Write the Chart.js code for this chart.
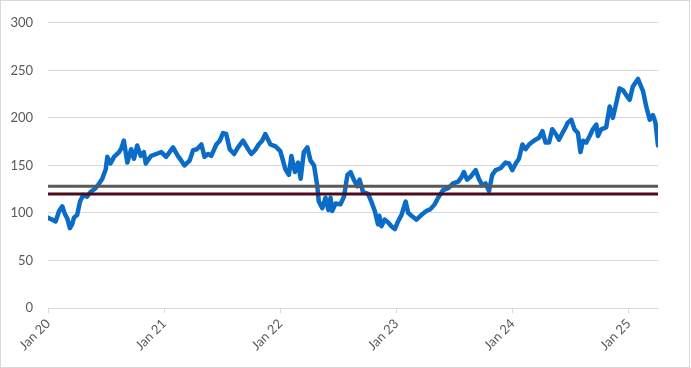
<!DOCTYPE html>
<html>
<head>
<meta charset="utf-8">
<script src="https://cdn.jsdelivr.net/npm/chart.js@4.4.1/dist/chart.umd.min.js"></script>
<style>
  html, body { margin: 0; padding: 0; background: #fff; }
  #wrap { position: relative; width: 691px; height: 368px; }
  #wrap::after {
    content: ""; position: absolute; left: 0; top: 0; width: 690px; height: 368px;
    box-sizing: border-box; border: 1px solid #d9d9d9; pointer-events: none;
  }
  canvas { position: absolute; left: 0; top: 0; }
</style>
</head>
<body>
<div id="wrap"><canvas id="chart" width="691" height="368"></canvas></div>
<script>
// ===============================
// Data
// ===============================
const dates = [
  "2020-01-01","2020-01-14","2020-01-25","2020-02-05","2020-02-15","2020-02-23","2020-03-02","2020-03-10",
  "2020-03-17","2020-03-23","2020-04-02","2020-04-11","2020-04-21","2020-05-03","2020-05-14","2020-05-30",
  "2020-06-10","2020-06-20","2020-07-01","2020-07-06","2020-07-16","2020-07-27","2020-08-12","2020-08-19",
  "2020-08-27","2020-09-07","2020-09-19","2020-09-28","2020-10-08","2020-10-19","2020-10-29","2020-11-04",
  "2020-11-14","2020-11-21","2020-12-07","2020-12-23","2021-01-07","2021-01-29","2021-02-13","2021-02-24",
  "2021-03-06","2021-03-22","2021-04-02","2021-04-14","2021-04-28","2021-05-08","2021-05-19","2021-05-29",
  "2021-06-14","2021-06-25","2021-07-05","2021-07-15","2021-07-26","2021-08-09","2021-08-21","2021-09-06",
  "2021-09-22","2021-10-02","2021-10-14","2021-10-25","2021-11-05","2021-11-15","2021-12-01","2021-12-17",
  "2022-01-01","2022-01-17","2022-01-28","2022-02-05","2022-02-16","2022-02-26","2022-03-06","2022-03-16",
  "2022-03-27","2022-04-06","2022-04-17","2022-04-27","2022-05-02","2022-05-13","2022-05-23","2022-06-01",
  "2022-06-08","2022-06-13","2022-06-24","2022-07-09","2022-07-20","2022-07-31","2022-08-10","2022-08-20",
  "2022-08-31","2022-09-07","2022-09-18","2022-10-04","2022-10-14","2022-10-25","2022-11-04","2022-11-08",
  "2022-11-15","2022-11-25","2022-12-06","2022-12-16","2022-12-27","2023-01-06","2023-01-17","2023-01-30",
  "2023-02-07","2023-02-17","2023-03-05","2023-03-21","2023-04-05","2023-04-18","2023-05-01","2023-05-12",
  "2023-05-28","2023-06-13","2023-06-28","2023-07-14","2023-07-25","2023-08-01","2023-08-11","2023-08-22",
  "2023-09-07","2023-09-17","2023-09-28","2023-10-08","2023-10-19","2023-10-29","2023-11-09","2023-11-24",
  "2023-12-10","2023-12-21","2023-12-31","2024-01-11","2024-01-21","2024-02-01","2024-02-11","2024-02-22",
  "2024-03-08","2024-03-24","2024-04-04","2024-04-14","2024-04-25","2024-05-05","2024-05-16","2024-05-26",
  "2024-06-06","2024-06-16","2024-06-23","2024-07-04","2024-07-14","2024-07-25","2024-08-02","2024-08-10",
  "2024-08-20","2024-08-31","2024-09-10","2024-09-21","2024-09-26","2024-10-06","2024-10-22","2024-11-02",
  "2024-11-12","2024-11-23","2024-12-03","2024-12-14","2024-12-24","2025-01-04","2025-01-14","2025-01-30",
  "2025-02-15","2025-02-25","2025-03-08","2025-03-18","2025-03-26","2025-04-03"
];

const price = [
  95, 93, 91, 102, 107, 99, 94, 84,
  88, 95, 98, 112, 119, 117, 122, 126,
  131, 136, 146, 159, 152, 159, 164, 168,
  176, 153, 167, 157, 171, 160, 164, 152,
  157, 160, 162, 164, 159, 169, 160, 155,
  150, 155, 166, 167, 172, 159, 162, 160,
  172, 176, 184, 183, 167, 162, 169, 176,
  167, 162, 166, 172, 176, 183, 172, 170,
  165, 146, 140, 160, 143, 153, 136, 164,
  169, 155, 150, 129, 112, 105, 116, 103,
  116, 102, 110, 109, 117, 140, 143, 135,
  128, 135, 122, 120, 112, 102, 88, 97,
  86, 93, 90, 86, 83, 91, 98, 112,
  100, 97, 93, 98, 102, 104, 109, 116,
  124, 126, 131, 133, 138, 143, 135, 138,
  145, 136, 129, 131, 123, 140, 145, 147,
  153, 152, 145, 152, 157, 172, 167, 172,
  176, 179, 186, 174, 174, 188, 183, 177,
  184, 190, 195, 198, 188, 184, 164, 176,
  174, 181, 188, 193, 181, 188, 190, 212,
  200, 216, 231, 229, 224, 219, 233, 241,
  228, 212, 198, 203, 195, 171
];

// reference levels
const upperLevel = 128;
const lowerLevel = 120;

// axis ticks
const yTicks = [0, 50, 100, 150, 200, 250, 300];
const yearLabels = { 2020: "Jan 20", 2021: "Jan 21", 2022: "Jan 22", 2023: "Jan 23", 2024: "Jan 24", 2025: "Jan 25" };

// ===============================
// Helpers
// ===============================
function toYear(s) {
  const [y, m, d] = s.split("-").map(Number);
  const t = Date.UTC(y, m - 1, d), a = Date.UTC(y, 0, 1), b = Date.UTC(y + 1, 0, 1);
  return y + (t - a) / (b - a);
}

const xs = dates.map(toYear);
const xMin = xs[0];
const xMax = xs[xs.length - 1];

const line = xs.map((x, i) => ({ x, y: price[i] }));
const level = v => [{ x: xMin, y: v }, { x: xMax, y: v }];

const font = { family: "Lato, 'Open Sans', sans-serif", size: 13 };

// ===============================
// Chart
// ===============================
new Chart(document.getElementById("chart"), {
  type: "line",
  data: {
    datasets: [
      { data: level(upperLevel), borderColor: "#595959", borderWidth: 3, pointRadius: 0 },
      { data: level(lowerLevel), borderColor: "#4a0c1e", borderWidth: 3, pointRadius: 0 },
      {
        data: line,
        borderColor: "#0a6cc6",
        borderWidth: 4.5,
        pointRadius: 0,
        tension: 0,
        borderJoinStyle: "round",
        borderCapStyle: "round"
      }
    ]
  },
  options: {
    responsive: false,
    animation: false,
    // y labels add ~7.8px on top of this
    layout: { padding: { top: 10.5, right: 33, left: 0, bottom: 0 } },
    plugins: { legend: { display: false }, tooltip: { enabled: false } },
    scales: {
      x: {
        type: "linear",
        min: xMin,
        max: xMax,
        afterFit: axis => { axis.height = 60; },
        border: { color: "#d9d9d9" },
        grid: { drawOnChartArea: false, color: "#d9d9d9", tickLength: 5 },
        ticks: {
          stepSize: 1,
          includeBounds: false,
          autoSkip: false,
          maxRotation: 45,
          minRotation: 45,
          color: "#595959",
          font,
          callback: v => yearLabels[Math.round(v)] || ""
        }
      },
      y: {
        min: 0,
        max: 300,
        afterFit: axis => { axis.width = 48; },
        afterBuildTicks: axis => { axis.ticks = yTicks.map(v => ({ value: v })); },
        border: { display: false },
        grid: { color: "#d9d9d9", drawTicks: false },
        ticks: { color: "#595959", font, padding: 15 }
      }
    }
  }
});
</script>
</body>
</html>
